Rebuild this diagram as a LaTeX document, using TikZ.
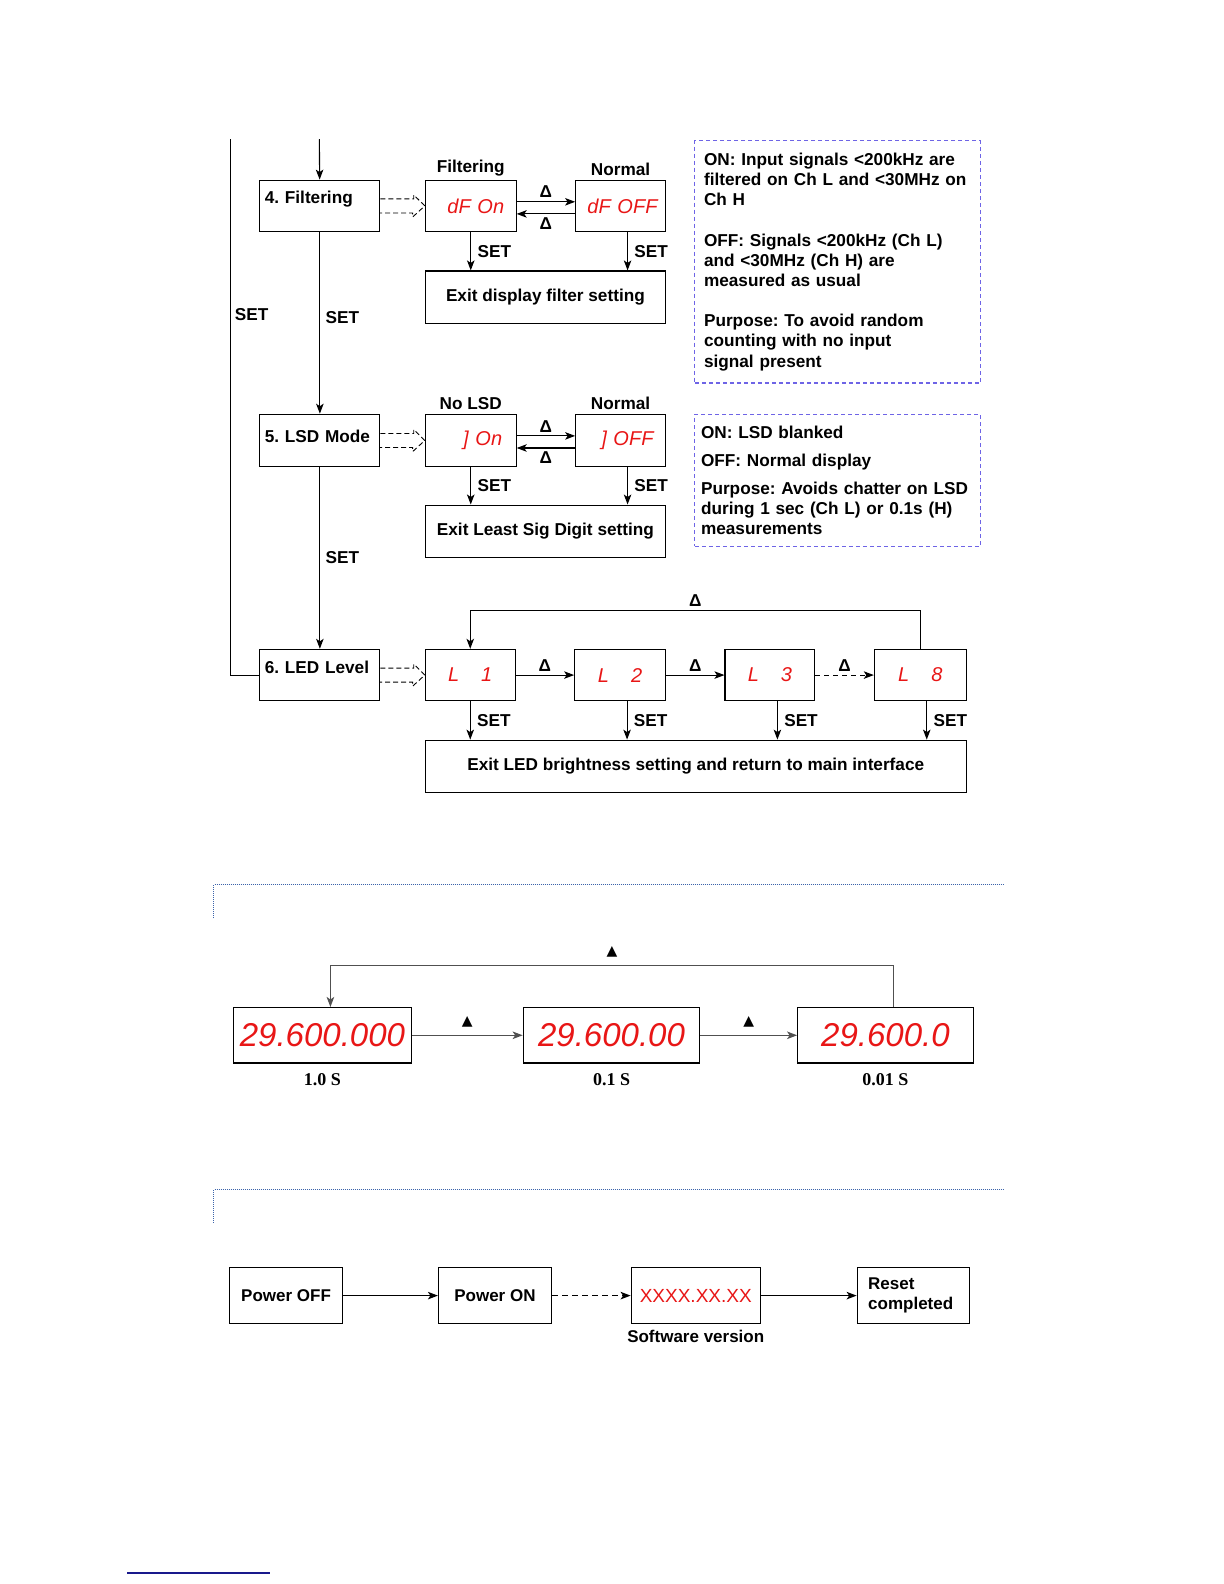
\documentclass[tikz,border=0pt]{standalone}
\usepackage{fontspec}
\setmainfont{Liberation Sans}
\newfontfamily\dejavu{DejaVu Sans}
\newfontfamily\serifb{Liberation Serif}
\usetikzlibrary{arrows.meta}
\frenchspacing
\def\myscale{1.009}
\definecolor{segred}{RGB}{232,22,22}
\definecolor{noteblue}{RGB}{110,100,230}
\definecolor{dotblue}{RGB}{60,100,170}
\definecolor{navyline}{RGB}{25,25,140}
\definecolor{loopgray}{RGB}{80,80,80}
\newcommand\dblarrow[2]{\draw[dash pattern=on 5pt off 3pt, line width=0.9pt] ([yshift=7pt]#1.east) -- ++(33,0) -- ++(0,-4) -- (#2.west) -- ++(-12,11) -- ++(0,-4) -- ++(-33,0);}
\begin{document}
\begin{tikzpicture}[x=1.009pt,y=-1.009pt, line width=1.1pt,
  font=\fontsize{17.2}{20.2}\selectfont\bfseries,
  box/.style={draw, rectangle, inner sep=0pt, anchor=north west},
  sz/.style 2 args={minimum width=#1*\myscale pt, minimum height=#2*\myscale pt},
  mbox/.style={box, text width=110pt, inner xsep=5pt, align=left, minimum width=120pt},
  seg/.style={text=segred, font=\fontsize{20}{20}\selectfont\itshape},
  segr/.style={seg, align=right},
  bigseg/.style={text=segred, font=\fontsize{33}{33}\selectfont\itshape},
  arr/.style={-{Stealth[length=10pt,width=7.5pt,inset=2.5pt]}, line width=1.1pt},
  note/.style={draw=noteblue, dash pattern=on 4pt off 3pt, line width=1.2pt, anchor=north west, align=left, inner ysep=0pt},
  dotline/.style={draw=dotblue, line width=1pt, dash pattern=on 1pt off 1pt},
  tri/.style={font=\dejavu\fontsize{14}{14}\selectfont},
  serl/.style={font=\serifb\fontsize{18}{18}\selectfont\bfseries},
  gl/.style={draw=loopgray, line width=1.5pt},
  s3/.style={font=\fontsize{17}{20}\selectfont\bfseries},
]
\path[use as bounding box] (0,0) rectangle (1213.08,1569.87);

% ---------- section 1 ----------
\node[mbox, text height=23.2pt, text depth=28.3pt] (f4) at (257,178) {4. Filtering};
\node[mbox, text height=28.3pt, text depth=24.2pt] (m5) at (257,410) {5. LSD Mode};
\node[mbox, text height=24.2pt, text depth=27.3pt] (l6) at (257,643) {6. LED Level};

\coordinate (in4) at (316.5,138);
\coordinate (inL) at (228,138);
\draw[arr] (in4) -- (f4);
\draw (inL) |- node[pos=.164, right=1pt]{SET} (l6.west);
\draw[arr] (f4) -- node[pos=.47, right=2pt]{SET} (m5);
\draw[arr] (m5) -- node[right=2pt]{SET} (l6);

% row 1
\node[box, sz={90}{51}, segr, text width=66.8pt, inner xsep=12pt] (dfon) at (421,178) {dF~On};
\node[box, sz={89}{51}, segr, text width=73.8pt, inner xsep=8pt] (dfoff) at (570,178) {dF~OFF};
\node[box, sz={238}{52}] (ex1) at (421,268) {Exit display filter setting};
\node[above] (lbf) at (dfon.north) {Filtering};
\node[above] (lbn1) at (dfoff.north) {Normal};
\dblarrow{f4}{dfon}
\draw[arr] (dfon.east |- 0,200) -- node[above]{Δ} (dfoff.west |- 0,200);
\draw[arr] (dfoff.west |- 0,212) -- node[below]{Δ} (dfon.east |- 0,212);
\coordinate (s1a) at (dfon.south);
\coordinate (s1b) at ([xshift=7pt]dfoff.south);
\draw[arr] (s1a) -- node[right=3pt]{SET} (s1a |- ex1.north);
\draw[arr] (s1b) -- node[right=3pt]{SET} (s1b |- ex1.north);

\node[note, sz={283}{240}, text width=267pt, inner xsep=9pt] (n1) at (688,139) {ON: Input signals <200kHz are\\
filtered on Ch L and <30MHz on\\
Ch H\\[20pt]
OFF: Signals <200kHz (Ch L)\\
and <30MHz (Ch H) are\\
measured as usual\\[20pt]
Purpose: To avoid random\\
counting with no input\\
signal present};

% row 2
\node[box, sz={90}{52}, segr, text width=62.8pt, inner xsep=14pt] (jon) at (421,410) {]~On};
\node[box, sz={89}{52}, segr, text width=65.8pt, inner xsep=12pt] (joff) at (570,410) {]~OFF};
\node[box, sz={238}{52}] (ex2) at (421,500) {Exit Least Sig Digit setting};
\node[above] (lbl) at (jon.north) {No LSD};
\node[above] (lbn2) at (joff.north) {Normal};
\dblarrow{m5}{jon}
\draw[arr] (jon.east |- 0,432) -- node[above]{Δ} (joff.west |- 0,432);
\draw[arr] (joff.west |- 0,444) -- node[below]{Δ} (jon.east |- 0,444);
\coordinate (s2a) at (jon.south);
\coordinate (s2b) at ([xshift=7pt]joff.south);
\draw[arr] (s2a) -- node[right=3pt]{SET} (s2a |- ex2.north);
\draw[arr] (s2b) -- node[right=3pt]{SET} (s2b |- ex2.north);

\node[note, sz={283}{131}, text width=273pt, inner xsep=6pt] (n2) at (688,410) {ON: LSD blanked\\[8pt]
OFF: Normal display\\[8pt]
Purpose: Avoids chatter on LSD\\
during 1 sec (Ch L) or 0.1s (H)\\
measurements};

% row 3
\node[box, sz={89}{51}, seg] (l1) at (421,643) {L\hspace{22pt}1};
\node[box, sz={90}{51}, seg] (l2) at (569,643) {L\hspace{22pt}2};
\node[box, sz={89}{51}, seg] (l3) at (718,643) {L\hspace{22pt}3};
\node[box, sz={91}{51}, seg] (l8) at (866,643) {L\hspace{22pt}8};
\node[box, sz={536}{52}] (ex3) at (421,733) {Exit LED brightness setting and return to main interface};
\dblarrow{l6}{l1}
\draw[arr] (l1) -- node[above]{Δ} (l2);
\draw[arr] (l2) -- node[above]{Δ} (l3);
\draw[arr, dash pattern=on 5pt off 4pt] (l3) -- node[above]{Δ} (l8);
\draw[arr] (l8.north) -- ++(0,-38) -| node[pos=.25, above]{Δ} (l1.north);
\coordinate (s3a) at (l1.south);
\coordinate (s3b) at ([xshift=7pt]l2.south);
\coordinate (s3c) at ([xshift=7.5pt]l3.south);
\coordinate (s3d) at ([xshift=6.5pt]l8.south);
\draw[arr] (s3a) -- node[right=3pt]{SET} (s3a |- ex3.north);
\draw[arr] (s3b) -- node[right=3pt]{SET} (s3b |- ex3.north);
\draw[arr] (s3c) -- node[right=3pt]{SET} (s3c |- ex3.north);
\draw[arr] (s3d) -- node[right=3pt]{SET} (s3d |- ex3.north);

% ---------- section 2 ----------
\draw[dotline] (212,910) -- (212,877) -- (995,877);
\node[box, sz={176}{55}, bigseg] (d1) at (231,998) {29.600.000};
\node[box, sz={175}{55}, bigseg] (d2) at (518,998) {29.600.00};
\node[box, sz={174}{55}, bigseg] (d3) at (790,998) {29.600.0};
\draw[arr, gl] (d1) -- node[above=4pt, tri]{▲} (d2);
\draw[arr, gl] (d2) -- node[above=4pt, tri]{▲} (d3);
\coordinate (c3) at ([xshift=8pt]d3.north);
\coordinate (c1) at ([xshift=8pt]d1.north);
\draw[arr, gl] (c3) -- ++(0,-41) -| node[pos=.25, above=4pt, tri]{▲} (c1);
\node[serl, below=6pt] (t1) at (d1.south) {1.0 S};
\node[serl, below=6pt] (t2) at (d2.south) {0.1 S};
\node[serl, below=6pt] (t3) at (d3.south) {0.01 S};

% ---------- section 3 ----------
\draw[dotline] (212,1212) -- (212,1179) -- (995,1179);
\node[box, sz={112}{55}, s3] (poff) at (227,1256) {Power OFF};
\node[box, sz={112}{55}, s3] (pon) at (434,1256) {Power ON};
\node[box, sz={128}{55}, text=segred, font=\fontsize{19}{19}\selectfont] (ver) at (625,1256) {XXXX.XX.XX};
\node[box, sz={111}{55}, s3, text width=90pt, inner xsep=11pt, align=left] (rst) at (849,1256) {Reset\\completed};
\node[s3, below=2pt] (swv) at (ver.south) {Software version};
\draw[arr, line width=1.5pt] (poff) -- (pon);
\draw[arr, line width=1.5pt, dash pattern=on 6pt off 4pt] (pon) -- (ver);
\draw[arr, line width=1.5pt] (ver) -- (rst);

% footnote rule
\draw[navyline, line width=1.3pt] (126,1559) -- (268,1559);
\end{tikzpicture}
\end{document}
